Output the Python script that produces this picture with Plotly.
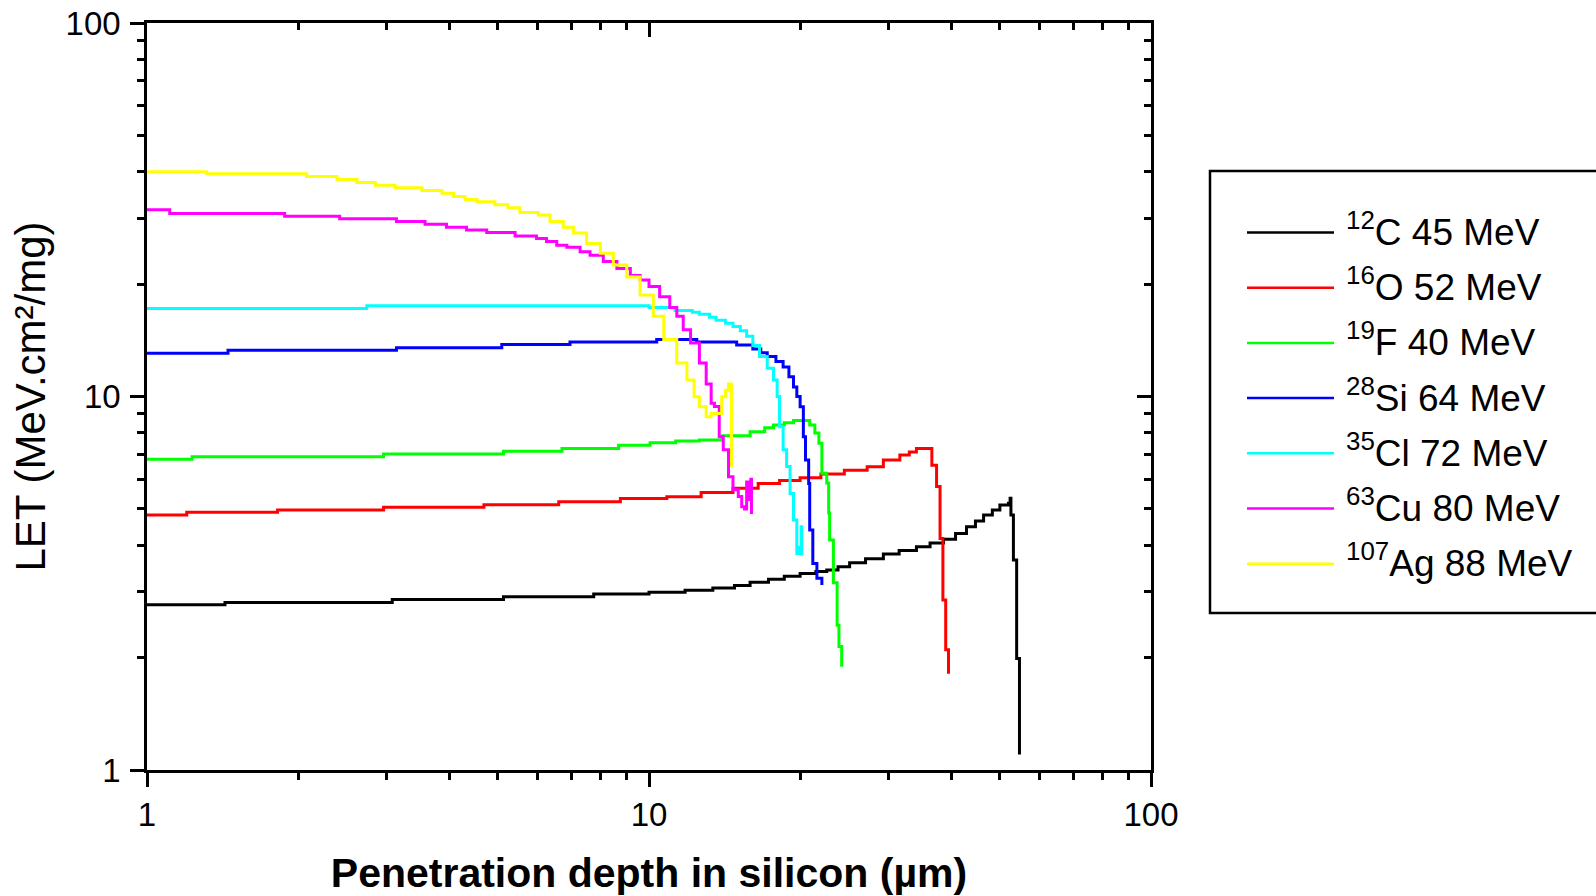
import plotly.graph_objects as go

# ---- LET vs penetration depth in silicon (SRIM-style step tables) ----
depth_C = [1.0, 1.43, 3.08, 5.13, 7.76, 10.0, 11.8, 13.4, 14.8, 15.9, 17.3, 18.6, 20.0, 21.5, 22.6,
           23.8, 25.1, 27.0, 29.3, 31.5, 34.1, 36.3, 38.6, 40.8, 42.9, 44.7, 46.4, 48.3, 50.0, 52.0,
           52.4, 52.6, 53.2, 54.0, 54.7]
let_C = [2.77, 2.81, 2.86, 2.91, 2.96, 2.99, 3.03, 3.07, 3.12, 3.18, 3.24, 3.30, 3.36, 3.40, 3.43,
         3.50, 3.59, 3.68, 3.79, 3.87, 3.96, 4.05, 4.15, 4.30, 4.48, 4.64, 4.82, 4.97, 5.12, 5.18,
         5.34, 4.82, 3.65, 1.99, 1.10]

depth_O = [1.0, 1.20, 1.82, 2.96, 4.69, 6.61, 8.77, 10.85, 12.7, 14.7, 16.5, 18.2, 20.0, 22.0, 24.5,
           27.2, 29.3, 31.6, 33.0, 34.1, 36.3, 36.6, 37.4, 38.0, 38.5, 39.0, 39.5]
let_O = [4.82, 4.90, 4.97, 5.05, 5.13, 5.23, 5.33, 5.39, 5.53, 5.68, 5.85, 5.96, 6.06, 6.20, 6.35,
         6.49, 6.76, 6.97, 7.10, 7.26, 7.26, 6.55, 5.74, 4.17, 2.85, 2.10, 1.81]

depth_F = [1.0, 1.23, 2.96, 5.13, 6.71, 8.70, 10.05, 11.3, 12.6, 14.0, 15.9, 17.0, 17.7, 18.6, 19.4,
           20.2, 20.9, 21.4, 21.8, 22.1, 22.6, 22.8, 22.9, 23.3, 23.7, 23.9, 24.2]
let_F = [6.79, 6.90, 7.02, 7.13, 7.26, 7.40, 7.52, 7.60, 7.65, 7.85, 8.05, 8.25, 8.39, 8.50, 8.62,
         8.62, 8.39, 7.98, 7.50, 6.23, 5.87, 4.88, 4.13, 3.17, 2.44, 2.14, 1.89]

depth_Si = [1.0, 1.45, 3.14, 5.09, 6.96, 10.36, 12.45, 14.95, 16.1, 16.7, 17.2, 17.9, 18.5, 19.0,
            19.4, 19.7, 20.0, 20.3, 20.5, 20.8, 20.9, 21.2, 21.6, 22.1]
let_Si = [13.05, 13.3, 13.5, 13.77, 14.0, 14.2, 14.0, 13.74, 13.4, 13.1, 12.8, 12.4, 12.0, 11.3,
          10.6, 10.0, 9.39, 7.8, 6.76, 5.85, 4.39, 3.57, 3.26, 3.13]

depth_Cl = [1.0, 2.74, 9.74, 10.0, 11.27, 12.2, 12.6, 13.2, 13.6, 14.2, 14.7, 15.2, 15.65, 16.1,
            16.6, 17.2, 17.7, 18.0, 18.2, 18.5, 18.8, 19.1, 19.4, 19.7, 19.9, 20.1, 20.15]
let_Cl = [17.2, 17.5, 17.5, 17.3, 17.0, 16.8, 16.6, 16.3, 16.0, 15.7, 15.4, 15.0, 14.5, 13.7,
          12.8, 11.9, 11.07, 10.0, 8.3, 7.2, 6.5, 5.5, 4.67, 3.8, 3.95, 4.48, 3.75]

depth_Cu = [1.0, 1.11, 1.88, 2.42, 3.14, 3.58, 3.95, 4.33, 4.75, 5.41, 5.97, 6.25, 6.55, 6.86, 7.29,
            7.63, 8.11, 8.63, 9.18, 9.6, 10.0, 10.5, 11.0, 11.36, 11.7, 12.1, 12.6, 13.0, 13.3, 13.5,
            13.8, 14.06, 14.4, 14.7, 15.06, 15.3, 15.5, 15.65, 15.85, 15.95, 16.0]
let_Cu = [31.6, 30.9, 30.4, 29.9, 29.4, 28.9, 28.4, 27.9, 27.5, 26.9, 26.5, 26.0, 25.4, 25.1, 24.4,
          23.9, 23.0, 22.0, 21.1, 20.5, 19.7, 18.5, 17.3, 16.4, 15.1, 13.9, 12.3, 10.8, 9.59, 9.4,
          7.8, 7.2, 6.1, 5.63, 5.4, 5.07, 5.0, 5.9, 5.3, 6.0, 4.85]

depth_Ag = [1.0, 1.315, 2.08, 2.39, 2.62, 2.85, 3.12, 3.53, 3.87, 4.08, 4.30, 4.54, 4.93, 5.24, 5.53,
            6.02, 6.35, 6.75, 7.07, 7.51, 8.0, 8.49, 9.03, 9.6, 10.2, 10.7, 11.36, 11.9, 12.3, 12.6,
            13.0, 13.3, 13.6, 13.96, 14.2, 14.4, 14.6]
let_Ag = [40.0, 39.5, 38.8, 38.1, 37.4, 36.8, 36.2, 35.6, 35.0, 34.3, 33.7, 33.2, 32.6, 32.0, 31.1,
          30.6, 29.4, 28.4, 27.4, 25.7, 24.2, 22.5, 20.9, 18.7, 16.4, 14.2, 12.3, 11.07, 9.99, 9.39,
          8.83, 9.0, 9.0, 9.99, 10.4, 10.8, 6.49]

ion_names = ["<sup>12</sup>C 45 MeV", "<sup>16</sup>O 52 MeV", "<sup>19</sup>F 40 MeV",
             "<sup>28</sup>Si 64 MeV", "<sup>35</sup>Cl 72 MeV", "<sup>63</sup>Cu 80 MeV",
             "<sup>107</sup>Ag 88 MeV"]
ion_colors = ["#000000", "#ff0000", "#00ff00", "#0000ff", "#00ffff", "#ff00ff", "#ffff00"]
series = [(depth_C, let_C), (depth_O, let_O), (depth_F, let_F), (depth_Si, let_Si),
          (depth_Cl, let_Cl), (depth_Cu, let_Cu), (depth_Ag, let_Ag)]

major_vals = [1, 10, 100]
major_text = ["1", "10", "100"]
minor_vals = [2, 3, 4, 5, 6, 7, 8, 9, 20, 30, 40, 50, 60, 70, 80, 90]

FONT = "Liberation Sans, Arial, sans-serif"
W, H = 1596, 896
L_M, R_M, T_M, B_M = 147, 445, 23, 126
PW, PH = W - L_M - R_M, H - T_M - B_M

fig = go.Figure()
for (xs, ys), name, col in zip(series, ion_names, ion_colors):
    fig.add_trace(go.Scatter(x=xs, y=ys, name=name, mode="lines", line_shape="hv",
                             line=dict(color=col, width=3), showlegend=False))

# carrier trace so the mirrored (top/right) axes with inward ticks are drawn
fig.add_trace(go.Scatter(x=[1, 100], y=[1, 100], xaxis="x2", yaxis="y2", mode="lines",
                         line=dict(width=0, color="rgba(0,0,0,0)"), hoverinfo="skip",
                         showlegend=False))

axis_common = dict(type="log", range=[0, 2], tickvals=major_vals, showgrid=False, zeroline=False,
                   tickwidth=2.5, tickcolor="black", ticklen=14, automargin=False)
minor_out = dict(tickvals=minor_vals, ticks="outside", ticklen=7, tickwidth=2.5, tickcolor="black",
                 showgrid=False)
minor_in = dict(minor_out, ticks="inside")

fig.update_layout(
    width=W, height=H,
    margin=dict(l=L_M, r=R_M, t=T_M, b=B_M, autoexpand=False),
    paper_bgcolor="white", plot_bgcolor="white",
    font=dict(family=FONT, color="black"),
    xaxis=dict(axis_common, ticktext=major_text, ticks="outside", minor=minor_out,
               showline=True, linecolor="black", linewidth=2.5, mirror=True,
               tickfont=dict(size=33), ticklabelstandoff=0,
               title=dict(text="<b>Penetration depth in silicon (µm)</b>",
                          font=dict(size=41), standoff=30)),
    yaxis=dict(axis_common, ticktext=major_text, ticks="outside", minor=minor_out,
               showline=True, linecolor="black", linewidth=2.5, mirror=True,
               tickfont=dict(size=33), ticklabelstandoff=3,
               title=dict(text="LET (MeV.cm²/mg)", font=dict(size=42), standoff=7)),
    xaxis2=dict(axis_common, overlaying="x", side="top", anchor="y2", ticks="inside",
                minor=minor_in, showticklabels=False, showline=False),
    yaxis2=dict(axis_common, overlaying="y", side="right", anchor="x2", ticks="inside",
                minor=minor_in, showticklabels=False, showline=False),
)

# ---- key box with sample lines ----
def px_x(px):
    return (px - L_M) / PW

def px_y(py):
    return (H - B_M - py) / PH

fig.add_shape(type="rect", xref="paper", yref="paper",
              x0=px_x(1210), x1=px_x(1700), y0=px_y(613), y1=px_y(171),
              line=dict(color="black", width=2.5), fillcolor="rgba(0,0,0,0)")
for i, (name, col) in enumerate(zip(ion_names, ion_colors)):
    yc = 232.5 + 55.2 * i
    fig.add_shape(type="line", xref="paper", yref="paper",
                  x0=px_x(1247), x1=px_x(1334), y0=px_y(yc), y1=px_y(yc),
                  line=dict(color=col, width=2.5))
    fig.add_annotation(text=name, xref="paper", yref="paper", x=px_x(1344), y=px_y(yc - 3),
                       xanchor="left", yanchor="middle", showarrow=False,
                       font=dict(size=37, color="black", family=FONT))

fig.write_html("out.html")
